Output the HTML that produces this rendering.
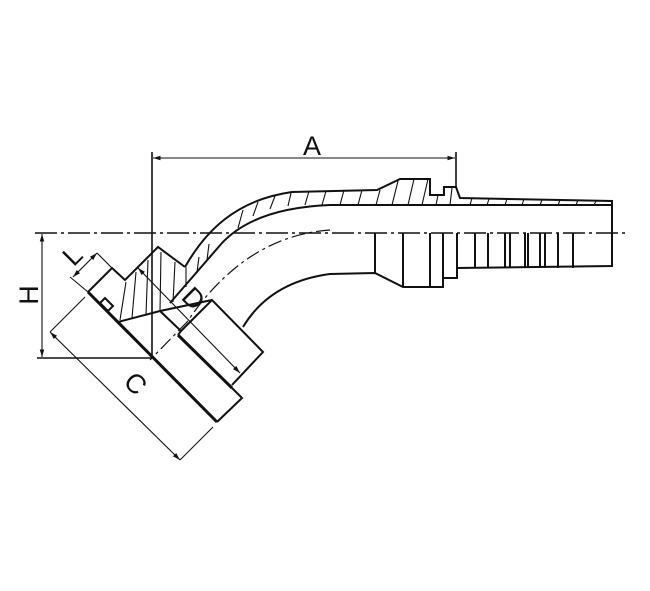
<!DOCTYPE html>
<html><head><style>html,body{margin:0;padding:0;background:#fff}svg{display:block}</style></head>
<body>
<svg width="650" height="591" viewBox="0 0 650 591" xmlns="http://www.w3.org/2000/svg">
<defs>
<marker id="ar" viewBox="0 0 10 10" refX="10" refY="5" markerWidth="7" markerHeight="7" orient="auto-start-reverse"><path d="M0,2 L10,5 L0,8 z" fill="#111"/></marker>
</defs>
<g fill="none" stroke="#111" stroke-width="2" stroke-linejoin="miter">
<!-- centre line -->
<line x1="35" y1="233" x2="628" y2="233" stroke-width="1.6" stroke-dasharray="22,4,3,4"/>
<!-- dash-dot curve -->
<path d="M330,230 Q245,236 187,322 L150,360" stroke-width="1.2" stroke-dasharray="14,4,3,4"/>
<!-- upper outer -->
<path d="M185,267 C205,232 235,200 292,192 L377,190 L400,179 L430,179 L430,195 L444,195 L444,187 L456,187 L460,198 L612,201 L612,266 L457,268 L457,278 L443,278 L443,287 L403,287 L375,273 L330,274 Q270,282 243,327"/>
<!-- inner wall of hatch -->
<path d="M612,205 L330,205 Q255,208 222,243 L170,303"/>
<!-- zigzag -->
<path d="M185,267 L158,247 L137,268 L125,280 L112,268 L88,292"/>
<!-- tail bottom features -->
<path d="M375,233 L375,273 M403,233 L403,287 M430,233 L430,287 M443,233 L443,278 M457,233 L457,268"/>
<path d="M475,233 V268 M488,233 V268 M505,233 V268 M510,233 V268 M525,233 V268 M528,233 V268 M540,233 V268 M545,233 V268 M558,233 V268 M573,233 V268"/>
<!-- hatching -->
<path stroke-width="1.1" d="M305,205 L309,191 M322,205 L326,191 M340,205 L344,190 M358,205 L362,190 M376,205 L380,190 M392,205 L398,181 M408,205 L414,179 M422,205 L428,179 M436,205 L438,195 M450,205 L452,188 M470,205 L472,198 M487,205 L489,199 M505,205 L507,199 M522,205 L524,199 M540,205 L542,200 M558,205 L560,200 M576,205 L578,200 M594,205 L596,201
M288,206 L291,193 M270,209 L275,196 M253,216 L258,202 M238,228 L243,210 M207,260 L209,244 M197,272 L199,257 M186,287 L186,267 M173,302 L175,262 M160,311 L161,252 M146,314 L148,260 M132,318 L136,272 M120,320 L126,282"/>
<!-- hatched block bottom -->
<path d="M118,322 L160,311 L212,300"/>
<!-- flange -->
<path d="M88,292 L217,422" stroke-width="3"/>
<path d="M217,422 L242,398 L232,388"/>
<path d="M178,335 L232,388" stroke-width="3"/>
<path d="M178,335 L181,331 L160,311"/>
<path d="M181,331 L212,300 L263,352 L232,385"/>
<path d="M100,303 L105,298 L113,306 L108,311 Z"/>
<!-- vertical ext -->
<line x1="152" y1="152" x2="152" y2="358" stroke-width="1.6"/>
<line x1="37" y1="358" x2="152" y2="358" stroke-width="1.6"/>
<line x1="456" y1="152" x2="456" y2="188" stroke-width="1.6"/>
</g>
<g stroke="#111" stroke-width="1.1" fill="none">
<line x1="153" y1="158" x2="455" y2="158" marker-start="url(#ar)" marker-end="url(#ar)"/>
<line x1="42" y1="234" x2="42" y2="357" marker-start="url(#ar)" marker-end="url(#ar)"/>
<line x1="138" y1="268" x2="240" y2="373" marker-start="url(#ar)" marker-end="url(#ar)"/>
<line x1="73" y1="277" x2="97" y2="253" marker-start="url(#ar)" marker-end="url(#ar)"/>
<line x1="97" y1="253" x2="112" y2="268"/>
<line x1="70" y1="277" x2="88" y2="292"/>
<line x1="50" y1="332" x2="180" y2="460" marker-start="url(#ar)" marker-end="url(#ar)"/>
<line x1="50" y1="332" x2="85" y2="297"/>
<line x1="180" y1="460" x2="213" y2="427"/>
</g>
<g font-family="Liberation Sans, sans-serif" font-size="27" fill="#111">
<text x="312" y="155" text-anchor="middle">A</text>
<text transform="translate(38,295) rotate(-90)" text-anchor="middle">H</text>
<text transform="translate(79,262) rotate(-45)" text-anchor="middle">L</text>
<text transform="translate(187,305) rotate(45)" text-anchor="middle">D</text>
<text transform="translate(129,390) rotate(45)" text-anchor="middle">C</text>
</g>
</svg>
</body></html>
